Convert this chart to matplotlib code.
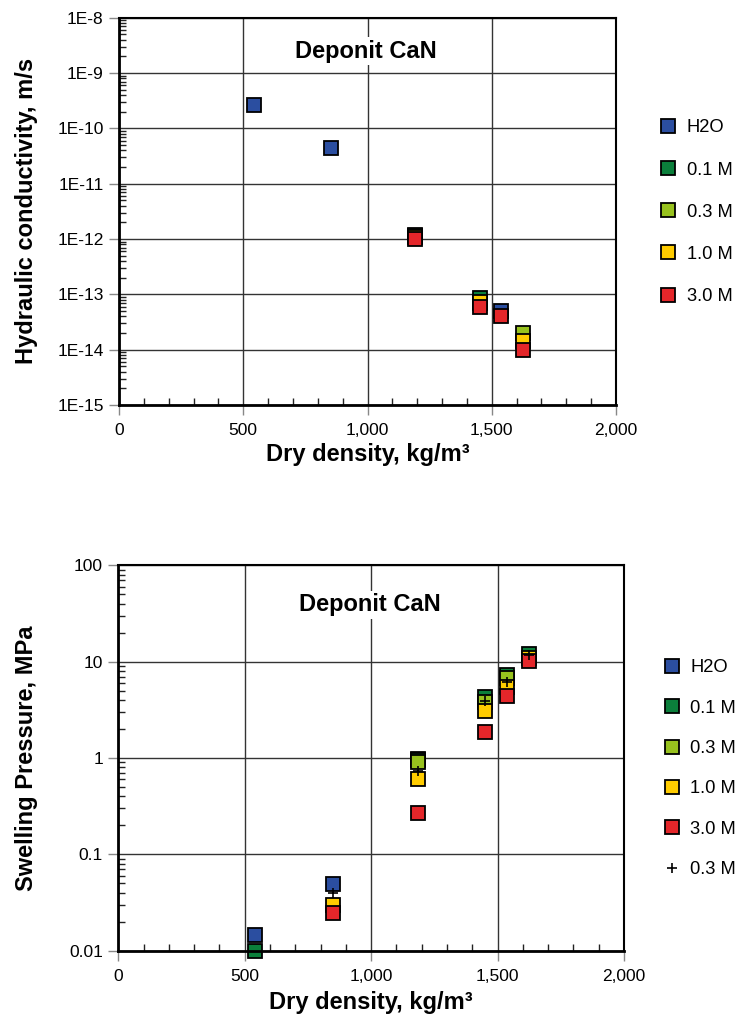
import math
import matplotlib
matplotlib.use("Agg")
import matplotlib.pyplot as plt
from matplotlib.ticker import MultipleLocator, LogLocator, FuncFormatter, NullFormatter

plt.rcParams["font.family"] = ["Liberation Sans", "DejaVu Sans"]

labels = ["H2O", "0.1 M", "0.3 M", "1.0 M", "3.0 M"]
colors = ["#2b4ea0", "#0b7f3b", "#98c21e", "#ffcc00", "#e4262a"]

# hydraulic conductivity (m/s) vs dry density (kg/m3)
k_h2o_x = [543, 852, 1190, 1539]
k_h2o_y = [2.62e-10, 4.33e-11, 1.15e-12, 4.9e-14]
k_01_x = [1190, 1453]
k_01_y = [1.2e-12, 8.5e-14]
k_03_x = [1190, 1453, 1626]
k_03_y = [1.15e-12, 7.0e-14, 1.97e-14]
k_10_x = [1190, 1453, 1626]
k_10_y = [1.1e-12, 7.2e-14, 1.45e-14]
k_30_x = [1190, 1453, 1539, 1626]
k_30_y = [1.0e-12, 6.0e-14, 4.0e-14, 1.0e-14]

# swelling pressure (MPa) vs dry density (kg/m3)
p_h2o_x = [542, 851, 1187]
p_h2o_y = [0.0147, 0.049, 0.98]
p_01_x = [542, 1187, 1450, 1539, 1624]
p_01_y = [0.010, 0.96, 4.26, 7.2, 11.9]
p_03_x = [1187, 1450, 1539]
p_03_y = [0.90, 3.8, 6.7]
p_10_x = [851, 1187, 1450, 1539, 1624]
p_10_y = [0.030, 0.60, 3.05, 5.5, 10.9]
p_30_x = [851, 1187, 1450, 1539, 1624]
p_30_y = [0.0247, 0.266, 1.88, 4.37, 10.07]
p_plus_x = [851, 1187, 1450, 1539, 1624]
p_plus_y = [0.040, 0.73, 3.9, 6.2, 11.6]

k_series = [(k_h2o_x, k_h2o_y), (k_01_x, k_01_y), (k_03_x, k_03_y), (k_10_x, k_10_y), (k_30_x, k_30_y)]
p_series = [(p_h2o_x, p_h2o_y), (p_01_x, p_01_y), (p_03_x, p_03_y), (p_10_x, p_10_y), (p_30_x, p_30_y)]

W, H = 736, 1025
fig = plt.figure(figsize=(W / 100, H / 100), dpi=100)

ax1 = fig.add_axes([119 / W, 1 - 405 / H, (616 - 119) / W, (405 - 17.7) / H])
ax2 = fig.add_axes([118.3 / W, 1 - 950.7 / H, (624 - 118.3) / W, (950.7 - 565.3) / H])

msq = dict(marker="s", markersize=10.5, markeredgecolor="black", markeredgewidth=1.3, linestyle="none")


def style(ax, ylo, yhi, fmt):
    ax.set_yscale("log")
    ax.set_xlim(0, 2000)
    ax.set_ylim(ylo, yhi)
    ax.xaxis.set_major_locator(MultipleLocator(500))
    ax.xaxis.set_minor_locator(MultipleLocator(100))
    ax.xaxis.set_major_formatter(FuncFormatter(lambda v, p: f"{int(v):,}"))
    ax.yaxis.set_major_locator(LogLocator(base=10, numticks=20))
    ax.yaxis.set_minor_locator(LogLocator(base=10, subs=range(2, 10), numticks=20))
    ax.yaxis.set_major_formatter(FuncFormatter(fmt))
    ax.yaxis.set_minor_formatter(NullFormatter())
    ax.tick_params(which="major", direction="out", length=7, width=1, color="#888888",
                   labelsize=12.5, pad=4)
    ax.tick_params(axis="x", which="major", pad=6)
    ax.tick_params(which="minor", direction="in", length=5, width=1, color="#222222")
    ax.grid(which="major", color="#333333", linewidth=1.0)
    ax.set_axisbelow(True)
    for s in ["left", "bottom"]:
        ax.spines[s].set_linewidth(2)
    for s in ["top", "right"]:
        ax.spines[s].set_linewidth(1.5)
    ax.set_xlabel("Dry density, kg/m³", fontsize=17, fontweight="bold")
    ax.xaxis.label.set_verticalalignment("center")


style(ax1, 1e-15, 1e-8, lambda v, p: f"1E{int(round(math.log10(v)))}")
style(ax2, 0.01, 100, lambda v, p: f"{v:g}")

for (x, y), c, lab in zip(k_series, colors, labels):
    ax1.plot(x, y, color=c, markerfacecolor=c, label=lab, **msq)
for (x, y), c, lab in zip(p_series, colors, labels):
    ax2.plot(x, y, color=c, markerfacecolor=c, label=lab, clip_on=False, **msq)
ax2.plot(p_plus_x, p_plus_y, marker="+", color="black", markersize=7, markeredgewidth=1.2,
         linestyle="none", label="0.3 M", zorder=5)

ax1.set_ylabel("Hydraulic conductivity, m/s", fontsize=17, fontweight="bold")
ax2.set_ylabel("Swelling Pressure, MPa", fontsize=17, fontweight="bold")
for ax in (ax1, ax2):
    ax.yaxis.label.set_verticalalignment("center")
ax1.yaxis.set_label_coords((27 - 119) / 497, 0.5)
ax2.yaxis.set_label_coords((27 - 118.3) / 505.7, 0.5)
ax1.xaxis.set_label_coords(0.5, (405 - 455) / 387.3)
ax2.xaxis.set_label_coords(0.5, (950.7 - 1003) / 385.4)

for ax, yy in [(ax1, 0.914), (ax2, 0.897)]:
    ax.text(0.497, yy, "Deponit CaN", transform=ax.transAxes, ha="center", va="center",
            fontsize=17, fontweight="bold", zorder=4,
            bbox=dict(facecolor="white", edgecolor="none", pad=2))

leg_kw = dict(loc="upper left", frameon=False, fontsize=13.2, handlelength=1.0,
              handletextpad=0.5, borderpad=0, borderaxespad=0, bbox_transform=fig.transFigure)
ax1.legend(bbox_to_anchor=(659.3 / W, 1 - 119.5 / H), labelspacing=1.37, **leg_kw)
ax2.legend(bbox_to_anchor=(662.5 / W, 1 - 659.5 / H), labelspacing=1.27, **leg_kw)

fig.savefig("out.png", dpi=100)
